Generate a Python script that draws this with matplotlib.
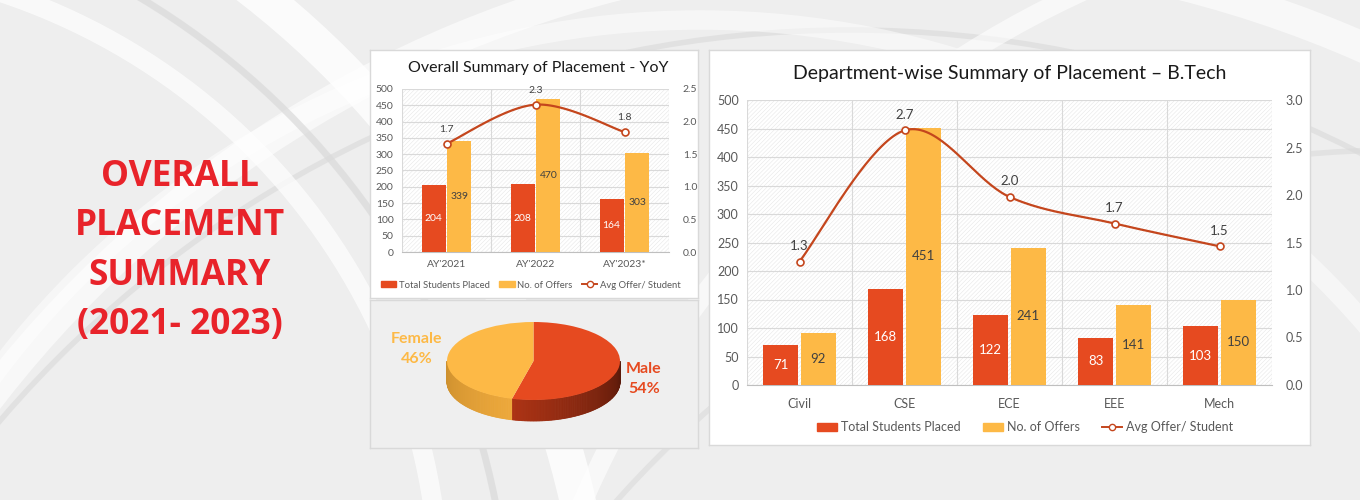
import matplotlib.pyplot as plt
import numpy as np
from matplotlib.patches import Rectangle, Polygon, Arc
from matplotlib.lines import Line2D

W, H = 1360, 500

years = ["AY'2021", "AY'2022", "AY'2023*"]
yoy_placed = [204, 208, 164]
yoy_offers = [339, 470, 303]
yoy_avg = [1.66, 2.26, 1.84]

depts = ["Civil", "CSE", "ECE", "EEE", "Mech"]
dept_placed = [71, 168, 122, 83, 103]
dept_offers = [92, 451, 241, 141, 150]
dept_avg = [1.30, 2.68, 1.98, 1.70, 1.46]

gender_labels = ["Male", "Female"]
gender_share = [54, 46]

RED = "#E64A20"
YELLOW = "#FDB946"
LINE = "#C4461D"
TEXT = "#595959"

plt.rcParams["font.family"] = ["Lato", "DejaVu Sans"]
plt.rcParams["hatch.linewidth"] = 0.35


def box(x0, y0, x1, y1):
    # pixel box (top-left origin) -> figure fraction
    return [x0 / W, 1 - y1 / H, (x1 - x0) / W, (y1 - y0) / H]


def smooth(xs, ys, n=40):
    # bezier smoothing like Excel's "smoothed line"
    pts = np.column_stack([xs, ys]).astype(float)
    p = np.vstack([pts[0], pts, pts[-1]])
    t = np.linspace(0, 1, n)[:, None]
    out = []
    for i in range(1, len(p) - 2):
        p0, p1, p2, p3 = p[i - 1], p[i], p[i + 1], p[i + 2]
        c1 = p1 + (p2 - p0) / 6
        c2 = p2 - (p3 - p1) / 6
        out.append((1 - t) ** 3 * p1 + 3 * (1 - t) ** 2 * t * c1
                   + 3 * (1 - t) * t ** 2 * c2 + t ** 3 * p2)
    out = np.vstack(out)
    return out[:, 0], out[:, 1]


fig = plt.figure(figsize=(13.6, 5), dpi=100)
fig.patch.set_facecolor("#eeeeee")

# background brush strokes
bg = fig.add_axes([0, 0, 1, 1], zorder=-10)
bg.set_xlim(0, W)
bg.set_ylim(H, 0)
bg.axis("off")
for cx, cy, r, lw, c, a in [
    (900, 1100, 1150, 22, "white", 0.6),
    (850, 1150, 1120, 4, "#dcdcdc", 0.7),
    (700, 900, 880, 14, "white", 0.5),
    (-300, 700, 900, 26, "white", 0.8),
    (-250, 650, 760, 5, "#dadada", 0.7),
    (-200, 600, 640, 14, "white", 0.7),
    (1500, 900, 1000, 14, "white", 0.6),
    (1400, 1200, 1050, 4, "#dadada", 0.6),
]:
    bg.add_patch(Arc((cx, cy), 2 * r, 2 * r, lw=lw, color=c, alpha=a))

# left heading
fig.text(180 / W, 1 - 251 / H, "OVERALL\nPLACEMENT\nSUMMARY\n(2021- 2023)",
         ha="center", va="center", color="#E8232A", fontsize=25.5,
         fontweight="bold", linespacing=1.5,
         family=["Open Sans", "DejaVu Sans"])


def panel(x0, y0, x1, y1, face="white"):
    p = fig.add_axes(box(x0, y0, x1, y1), zorder=-5)
    p.set_facecolor(face)
    p.set_xticks([])
    p.set_yticks([])
    for s in p.spines.values():
        s.set_color("#d9d9d9")
        s.set_linewidth(1)
    return p


def combo(rect, cats, placed, offers, avg, ymax2, width, off, fs, lab_fs, xpad):
    ax = fig.add_axes(box(*rect))
    x = np.arange(len(cats))
    ax.add_patch(Rectangle((0, 0), 1, 1, transform=ax.transAxes,
                           facecolor="white", edgecolor="#e4e4e4",
                           hatch="////////", lw=0, zorder=0))
    ax.set_xlim(-0.5, len(cats) - 0.5)
    ax.set_ylim(0, 500)
    ax.set_yticks(np.arange(0, 501, 50))
    ax.grid(axis="y", color="#d9d9d9", lw=0.8, zorder=1)
    for b in np.arange(-0.5, len(cats), 1):
        ax.axvline(b, color="#d9d9d9", lw=0.8, zorder=1)
    ax.set_axisbelow(True)
    b1 = ax.bar(x - off, placed, width, color=RED, zorder=3)
    b2 = ax.bar(x + off, offers, width, color=YELLOW, zorder=3)
    for r, v in zip(b1, placed):
        ax.text(r.get_x() + r.get_width() / 2, v / 2, f"{v}", ha="center",
                va="center", color="white", fontsize=lab_fs, zorder=4)
    for r, v in zip(b2, offers):
        ax.text(r.get_x() + r.get_width() / 2, v / 2, f"{v}", ha="center",
                va="center", color="#404040", fontsize=lab_fs, zorder=4)
    ax.set_xticks(x)
    ax.set_xticklabels(cats)
    ax.tick_params(length=0, labelsize=fs, colors=TEXT, pad=6)
    ax.tick_params(axis="x", pad=xpad)
    for s in ["top", "right", "left"]:
        ax.spines[s].set_visible(False)
    ax.spines["bottom"].set_color("#bfbfbf")

    ax2 = ax.twinx()
    ax2.set_ylim(0, ymax2)
    ax2.set_yticks(np.arange(0, ymax2 + 0.01, 0.5))
    ax2.yaxis.set_major_formatter(plt.FormatStrFormatter("%.1f"))
    ax2.tick_params(length=0, labelsize=fs, colors=TEXT, pad=10)
    for s in ax2.spines.values():
        s.set_visible(False)
    sx, sy = smooth(x, avg)
    ax2.plot(sx, sy, color=LINE, lw=1.6, zorder=5)
    ax2.plot(x, avg, "o", ms=5, mfc="white", mec=LINE, mew=1.2, zorder=6)
    for xi, v in zip(x, avg):
        ax2.annotate(f"{v:.1f}", (xi, v), xytext=(0, 7),
                     textcoords="offset points", ha="center", va="bottom",
                     color="#404040", fontsize=lab_fs)
    return ax


def legend(cx, cy, fs, colsp):
    handles = [
        Rectangle((0, 0), 1, 1, color=RED),
        Rectangle((0, 0), 1, 1, color=YELLOW),
        Line2D([], [], color=LINE, lw=1.4, marker="o", ms=4.5,
               mfc="white", mec=LINE),
    ]
    labels = ["Total Students Placed", "No. of Offers", "Avg Offer/ Student"]
    fig.legend(handles, labels, loc="center", bbox_to_anchor=(cx / W, 1 - cy / H),
               ncol=3, frameon=False, fontsize=fs, handlelength=1.6,
               handleheight=0.6, handletextpad=0.3, columnspacing=colsp,
               labelcolor=TEXT)


# YoY panel
panel(370, 50, 698, 298)
combo((402, 89, 669, 252), years, yoy_placed, yoy_offers, yoy_avg, 2.5,
      0.27, 0.145, 7.5, 7.5, 6)
fig.text(538 / W, 1 - 68 / H, "Overall Summary of Placement - YoY",
         ha="center", va="center", fontsize=11.5, color="#1a1a1a")
legend(531, 285, 6.8, 1.0)

# Department panel
panel(709, 50, 1310, 445)
combo((747, 100, 1272, 385), depts, dept_placed, dept_offers, dept_avg, 3.0,
      0.33, 0.18, 9, 9.5, 9)
fig.text(1010 / W, 1 - 73 / H, "Department-wise Summary of Placement \u2013 B.Tech",
         ha="center", va="center", fontsize=14, color="#1a1a1a")
legend(1025, 427, 9, 1.8)

# Pie panel (tilted 3D look)
panel(370, 300, 698, 448, face="#efefef")
px0, py0, px1, py1 = 372, 302, 696, 446
cxp, cyp, R, B, D = 533.5, 361, 86.5, 39, 21
pax = fig.add_axes(box(px0, py0, px1, py1))
split = 90 - 360 * gender_share[0] / 100 + 360  # male/female boundary on the lower side
depth = D / B
angs = np.linspace(180, 360, 181)
for a0, a1 in zip(angs[:-1], angs[1:]):
    am = (a0 + a1) / 2
    if am < split:
        f = (am - 180) / (split - 180)
        base = np.array([0.80, 0.56, 0.18]) + f * np.array([0.13, 0.10, 0.05])
    else:
        f = (am - split) / (360 - split)
        base = np.array([0.68, 0.20, 0.08]) - f * np.array([0.33, 0.10, 0.04])
    r0, r1 = np.radians(a0), np.radians(a1)
    pts = [(np.cos(r0), np.sin(r0)), (np.cos(r1), np.sin(r1)),
           (np.cos(r1), np.sin(r1) - depth), (np.cos(r0), np.sin(r0) - depth)]
    pax.add_patch(Polygon(pts, closed=True, facecolor=np.clip(base, 0, 1),
                          edgecolor=np.clip(base, 0, 1), lw=0.6, zorder=1))
pax.pie(gender_share, colors=[RED, YELLOW], startangle=90, counterclock=False,
        radius=1, wedgeprops=dict(lw=0, zorder=3))
pax.set_aspect("auto")
pax.set_xlim((px0 - cxp) / R, (px1 - cxp) / R)
pax.set_ylim(-(py1 - cyp) / B, (cyp - py0) / B)
pax.axis("off")

fig.text(644 / W, 1 - 379 / H, f"{gender_labels[0]}\n{gender_share[0]}%",
         ha="center", va="center", color=RED, fontsize=11.5, fontweight="bold",
         linespacing=1.55)
fig.text(417 / W, 1 - 349 / H, f"{gender_labels[1]}\n{gender_share[1]}%",
         ha="center", va="center", color=YELLOW, fontsize=11.5, fontweight="bold",
         linespacing=1.55)

fig.savefig("out.png", dpi=100, facecolor=fig.get_facecolor())
